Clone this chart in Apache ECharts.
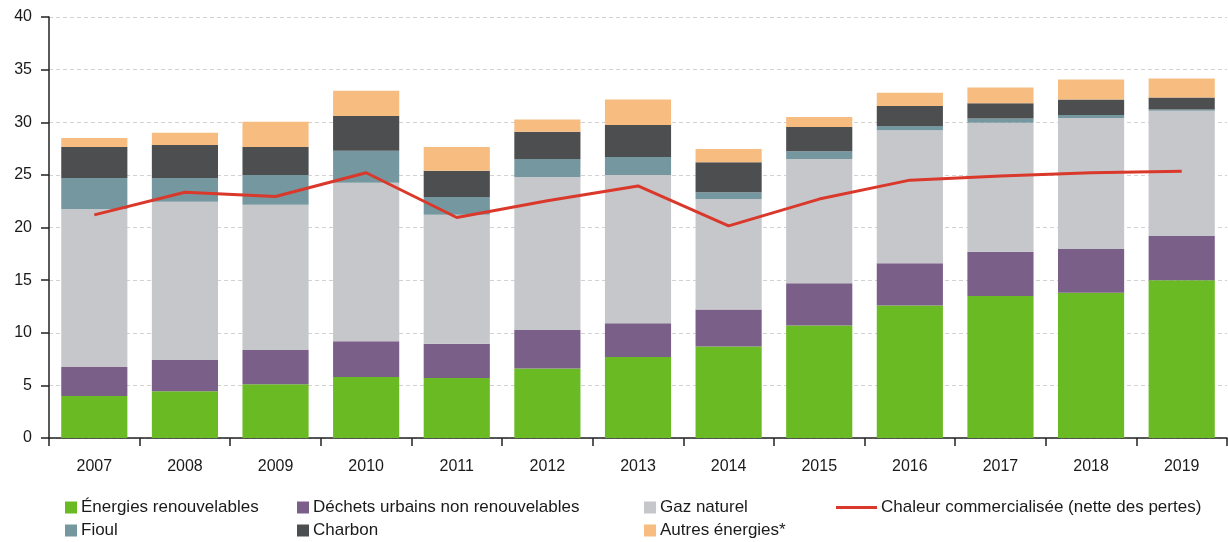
<!DOCTYPE html>
<html>
<head>
<meta charset="utf-8">
<script src="https://cdn.jsdelivr.net/npm/echarts@6/dist/echarts.min.js"></script>
<style>
  html, body { margin: 0; padding: 0; background: #fff; }
  #chart { width: 1228px; height: 542px; }
</style>
</head>
<body>
<div id="chart"></div>
<script>
// Années
const years = ['2007', '2008', '2009', '2010', '2011', '2012', '2013', '2014', '2015', '2016', '2017', '2018', '2019'];

// Consommation par énergie (empilée)
const renouvelables = [4.0, 4.45, 5.1, 5.8, 5.7, 6.6, 7.7, 8.7, 10.7, 12.6, 13.5, 13.8, 15.0];
const dechets       = [2.75, 2.95, 3.25, 3.4, 3.25, 3.65, 3.2, 3.5, 4.0, 4.0, 4.2, 4.15, 4.2];
const gaz           = [15.0, 15.05, 13.8, 15.05, 12.25, 14.55, 14.1, 10.5, 11.8, 12.65, 12.25, 12.45, 11.9];
const fioul         = [2.95, 2.25, 2.85, 3.05, 1.7, 1.7, 1.7, 0.65, 0.75, 0.4, 0.4, 0.3, 0.1];
const charbon       = [2.95, 3.15, 2.65, 3.3, 2.5, 2.6, 3.05, 2.85, 2.3, 1.9, 1.45, 1.45, 1.15];
const autres        = [0.85, 1.15, 2.4, 2.4, 2.25, 1.15, 2.4, 1.25, 0.95, 1.25, 1.5, 1.9, 1.8];

// Chaleur commercialisée (nette des pertes)
const chaleur = [21.2, 23.35, 22.95, 25.2, 20.95, 22.55, 23.95, 20.15, 22.7, 24.5, 24.9, 25.2, 25.35];

// Graduations de l'axe vertical
const yTicks = [0, 5, 10, 15, 20, 25, 30, 35, 40];

const FONT = "'Liberation Sans', Arial, Helvetica, sans-serif";
const colors = {
  ren: '#6aba24', dech: '#7a5f88', gaz: '#c6c7cb', fioul: '#7497a0',
  charbon: '#4d4e50', autres: '#f7bd80', chaleur: '#d9382a'
};

function barSeries(name, data, color) {
  return {
    name, type: 'bar', stack: 'total', data,
    barCategoryGap: '27%',
    itemStyle: { color },
    emphasis: { disabled: true },
    z: 2
  };
}

function legendAt(name, left, top, opts) {
  return Object.assign({
    data: [name], left, top,
    icon: 'rect', itemWidth: 12, itemHeight: 12, itemGap: 4,
    textStyle: { fontFamily: FONT, fontSize: 17, color: '#1a1a1a', padding: [0, 0, 0, -1] },
    padding: 0, selectedMode: false
  }, opts || {});
}

const chart = echarts.init(document.getElementById('chart'), null, { renderer: 'canvas' });
chart.setOption({
  animation: false,
  backgroundColor: '#ffffff',
  grid: { left: 49, right: 1, top: 17, bottom: 104, containLabel: false },
  legend: [
    legendAt('Énergies renouvelables', 65, 499),
    legendAt('Fioul', 65, 522),
    legendAt('Déchets urbains non renouvelables', 297, 499),
    legendAt('Charbon', 297, 522),
    legendAt('Gaz naturel', 644, 499),
    legendAt('Autres énergies*', 644, 522),
    legendAt('Chaleur commercialisée (nette des pertes)', 836, 499, {
      itemWidth: 41, itemHeight: 3, itemGap: 5
    })
  ],
  xAxis: {
    type: 'category',
    data: years,
    axisLine: { lineStyle: { color: '#222', width: 1.5 } },
    axisTick: { show: true, length: 8, interval: 0, lineStyle: { color: '#222', width: 1.5 } },
    axisLabel: { fontFamily: FONT, fontSize: 16, color: '#1a1a1a', margin: 21 }
  },
  yAxis: {
    type: 'value',
    min: yTicks[0], max: yTicks[yTicks.length - 1], interval: 5,
    axisLine: { show: true, lineStyle: { color: '#222', width: 1.5 } },
    axisTick: { show: true, length: 8, lineStyle: { color: '#222', width: 1.5 } },
    axisLabel: { fontFamily: FONT, fontSize: 16, color: '#1a1a1a', margin: 17 },
    splitLine: { show: true, lineStyle: { color: '#d2d2d2', type: [4, 3], width: 1 } }
  },
  series: [
    barSeries('Énergies renouvelables', renouvelables, colors.ren),
    barSeries('Déchets urbains non renouvelables', dechets, colors.dech),
    barSeries('Gaz naturel', gaz, colors.gaz),
    barSeries('Fioul', fioul, colors.fioul),
    barSeries('Charbon', charbon, colors.charbon),
    barSeries('Autres énergies*', autres, colors.autres),
    {
      name: 'Chaleur commercialisée (nette des pertes)',
      type: 'line', data: chaleur,
      symbol: 'none', showSymbol: false,
      lineStyle: { color: colors.chaleur, width: 3 },
      itemStyle: { color: colors.chaleur },
      emphasis: { disabled: true },
      z: 5
    }
  ]
});
</script>
</body>
</html>
